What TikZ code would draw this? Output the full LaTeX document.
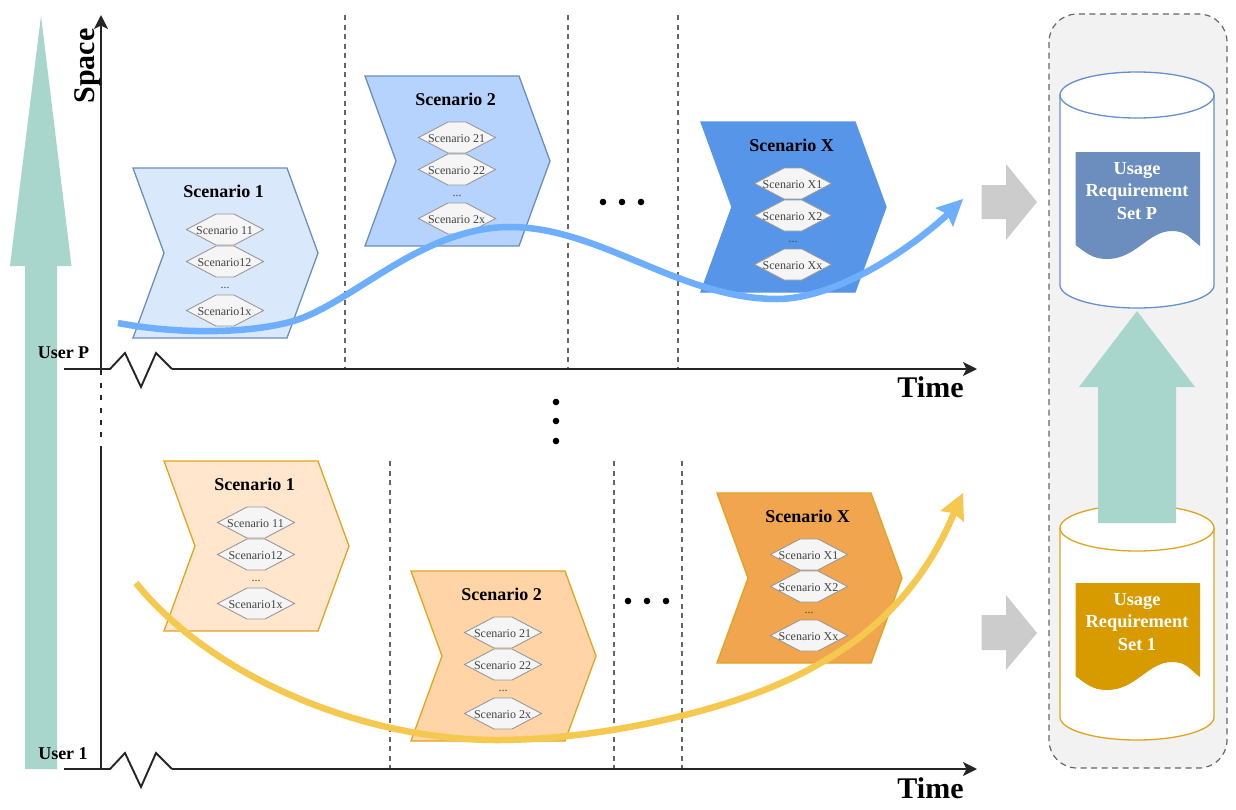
\documentclass[tikz,border=0pt]{standalone}
\usepackage{fontspec}
\setmainfont{Liberation Serif}
\usetikzlibrary{arrows.meta}
\definecolor{teal1}{HTML}{A8D6CD}
\definecolor{greyarrow}{HTML}{CCCCCC}
\definecolor{panelfill}{HTML}{F2F2F2}
\definecolor{axisc}{HTML}{262626}
\definecolor{dashc}{HTML}{666666}
\definecolor{hexfill}{HTML}{F5F5F5}
\definecolor{hexline}{HTML}{999999}
\definecolor{hextext}{HTML}{444444}
\definecolor{blueline}{HTML}{6C8EBF}
\definecolor{blueA}{HTML}{DAE8FC}
\definecolor{blueB}{HTML}{B5D3FD}
\definecolor{blueC}{HTML}{5695E8}
\definecolor{orangeline}{HTML}{E0A41E}
\definecolor{orangeA}{HTML}{FFE6CC}
\definecolor{orangeB}{HTML}{FFD4A6}
\definecolor{orangeC}{HTML}{F0A54E}
\definecolor{curveblue}{HTML}{6EAEFF}
\definecolor{curveyellow}{HTML}{F5C950}
\definecolor{docblue}{HTML}{6C8EBF}
\definecolor{docorange}{HTML}{D79B00}
\definecolor{cylblue}{HTML}{6490D0}
\tikzset{
  axisline/.style={draw=axisc,line width=1.9pt},
  axisarrow/.style={axisline,-{Stealth[length=14pt,width=14pt,inset=3.5pt]}},
  gridline/.style={draw=dashc,line width=1.3pt,dash pattern=on 5pt off 4.5pt},
  titletext/.style={font=\fontsize{18}{20}\selectfont\bfseries,text=black,anchor=base,inner sep=0pt},
  hextxt/.style={font=\fontsize{12}{14}\selectfont,text=hextext,anchor=base,inner sep=0pt},
  hexpath/.style={fill=hexfill,draw=hexline,line width=0.9pt},
  timetext/.style={font=\fontsize{30}{32}\selectfont\bfseries,text=black,anchor=base,inner sep=0pt},
  usertext/.style={font=\fontsize{18}{20}\selectfont\bfseries,text=black,anchor=base,inner sep=0pt},
  doctext/.style={font=\fontsize{18.4}{20}\selectfont\bfseries,text=white,anchor=base,inner sep=0pt},
  bigteal/.style={fill=teal1,draw=none},
  greyblock/.style={fill=greyarrow,draw=none},
  dotmark/.style={circle,fill=black,draw=none,minimum size=6.6pt,inner sep=0pt},
  curvestroke/.style={line width=6.5pt,line join=round},
}
% hexagon: name, y offset, text
\newcommand{\hexitem}[3]{%
  \draw[hexpath] (92-38.5,#2) -- (92-9,#2-15.5) -- (92+9,#2-15.5) -- (92+38.5,#2) -- (92+9,#2+15.5) -- (92-9,#2+15.5) -- cycle;
  \node[hextxt] (#1) at (91.5,#2+5) {#3};
}
% block: name, x, y, fill, line, title, sub1, sub2, sub3
\newcommand{\chevronblock}[9]{%
  \begin{scope}[shift={(#2,#3)}]
    \draw[fill=#4,draw=#5,line width=1.3pt,line join=miter]
      (0,0) -- (154,0) -- (185,85) -- (154,170) -- (0,170) -- (31,85) -- cycle;
    \node[titletext] (#1t) at (90.5,29) {#6};
    \hexitem{#1a}{61.5}{#7}
    \hexitem{#1b}{93.5}{#8}
    \node[hextxt] (#1d) at (92,120.5) {...};
    \hexitem{#1c}{142.5}{#9}
  \end{scope}
}
% cylinder: ellipse centre y, bottom arc centre y, colour
\newcommand{\cylblock}[3]{%
  \draw[fill=white,draw=#3,line width=1.3pt]
    (1060,#1) -- (1060,#2) arc[start angle=180,end angle=0,x radius=77,y radius=23] -- (1214,#1)
    arc[start angle=0,end angle=-180,x radius=77,y radius=23] -- cycle;
  \draw[draw=#3,line width=1.3pt] (1060,#1) arc[start angle=180,end angle=0,x radius=77,y radius=23];
}
% document: top y, fill
\newcommand{\docblock}[2]{%
  \fill[#2] (1075.5,#1) -- (1200,#1) -- (1200,#1+94)
    .. controls (1190,#1+87) and (1187,#1+79) .. (1172,#1+79)
    .. controls (1148,#1+79) and (1136,#1+107) .. (1107,#1+107)
    .. controls (1092,#1+107) and (1085,#1+100) .. (1075.5,#1+93) -- cycle;
}
\begin{document}
\begin{tikzpicture}[x=1pt,y=-1pt]
\path[use as bounding box,fill=white] (0,0) rectangle (1236,809);

% large space arrow
\fill[bigteal] (41,16) -- (71.5,266) -- (57,266) -- (57,769) -- (25,769) -- (25,266) -- (10,266) -- cycle;

% coordinates of axes
\coordinate (pL) at (64,369); \coordinate (pA) at (110,369);
\coordinate (pB) at (172,369); \coordinate (pE) at (977,369);
\coordinate (uL) at (64,769); \coordinate (uA) at (110,769);
\coordinate (uB) at (172,769); \coordinate (uE) at (977,769);
\coordinate (vTop) at (101,15); \coordinate (vP) at (101,375);
\coordinate (vGap) at (101,446); \coordinate (vU) at (101,769);
\coordinate (vDashA) at (101,383); \coordinate (vDashB) at (101,440);

% grid lines
\foreach \n/\gx in {a/345,b/568,c/678}{
  \coordinate (gt\n) at (\gx,15); \coordinate (gb\n) at (\gx,369);
  \draw[gridline] (gt\n) -- (gb\n);
}
\foreach \n/\gx in {d/390,e/614,f/682}{
  \coordinate (gt\n) at (\gx,461); \coordinate (gb\n) at (\gx,769);
  \draw[gridline] (gt\n) -- (gb\n);
}

% axes
\draw[axisarrow] (vP) -- (vTop);
\draw[draw=axisc,line width=2.2pt,dash pattern=on 5pt off 7.3pt] (vDashA) -- (vDashB);
\draw[axisline] (vGap) -- (vU);
\draw[axisline,line join=miter] (pL) -- (pA) -- (125,353) -- (141,387) -- (156,353) -- (pB);
\draw[axisarrow] (pB) -- (pE);
\draw[axisline,line join=miter] (uL) -- (uA) -- (125,753) -- (141,787) -- (156,753) -- (uB);
\draw[axisarrow] (uB) -- (uE);

% axis labels
\node[timetext] (timeP) at (930.5,397.5) {Time};
\node[timetext] (timeU) at (930.5,798) {Time};
\node[timetext,rotate=90] (spaceL) at (94,66) {Space};
\node[usertext] (userP) at (63.5,358) {User P};
\node[usertext] (userU) at (63,759) {User 1};

% scenario blocks
\chevronblock{pone}{133}{168}{blueA}{blueline}{Scenario 1}{Scenario 11}{Scenario12}{Scenario1x}
\chevronblock{ptwo}{365}{76}{blueB}{blueline}{Scenario 2}{Scenario 21}{Scenario 22}{Scenario 2x}
\chevronblock{px}{701}{122}{blueC}{blueC}{Scenario X}{Scenario X1}{Scenario X2}{Scenario Xx}
\chevronblock{uone}{164}{461}{orangeA}{orangeline}{Scenario 1}{Scenario 11}{Scenario12}{Scenario1x}
\chevronblock{utwo}{411}{571}{orangeB}{orangeline}{Scenario 2}{Scenario 21}{Scenario 22}{Scenario 2x}
\chevronblock{ux}{717}{493}{orangeC}{orangeline}{Scenario X}{Scenario X1}{Scenario X2}{Scenario Xx}

% ellipsis dots
\foreach \n/\dx in {1/603,2/622,3/641}{\node[dotmark] (dp\n) at (\dx,202) {};}
\foreach \n/\dx in {1/628,2/647,3/666}{\node[dotmark] (du\n) at (\dx,601) {};}
\foreach \n/\dy in {1/402,2/421,3/441}{\node[dotmark] (dv\n) at (556,\dy) {};}

% curves
\coordinate (bS) at (118,323); \coordinate (bE) at (948,214);
\coordinate (yS) at (136,583); \coordinate (yE) at (954,513);
\draw[curvestroke,draw=curveblue] (bS)
  .. controls (170,333) and (240,335) .. (290,322)
  .. controls (350,306) and (420,227) .. (510,227)
  .. controls (600,227) and (680,299) .. (777,299)
  .. controls (830,299) and (900,258) .. (bE);
\fill[curveblue] (963,199) -- (953,227) -- (947,214) -- (935,208) -- cycle;

\draw[curvestroke,draw=curveyellow] (yS)
  .. controls (210,675) and (360,740) .. (497,740)
  .. controls (600,740) and (740,710) .. (817,665)
  .. controls (870,636) and (922,590) .. (yE);
\fill[curveyellow] (963,493) -- (964,522) -- (953,513) -- (940,511) -- cycle;

% grey arrows
\fill[greyblock] (981.5,185) -- (1006,185) -- (1006,164) -- (1037,202) -- (1006,240) -- (1006,219) -- (981.5,219) -- cycle;
\fill[greyblock] (981.5,615) -- (1006,615) -- (1006,595) -- (1037,633) -- (1006,670) -- (1006,650) -- (981.5,650) -- cycle;

% right panel
\draw[fill=panelfill,draw=dashc,line width=1.2pt,dash pattern=on 6pt off 4.5pt,rounded corners=28pt]
  (1049,14) rectangle (1227,768);

% stores
\cylblock{95}{285}{cylblue}
\cylblock{528}{717}{orangeline}
\docblock{152}{docblue}
\docblock{583}{docorange}
\node[doctext] (p1) at (1137,174) {Usage};
\node[doctext] (p2) at (1137,196) {Requirement};
\node[doctext] (p3) at (1137,219) {Set P};
\node[doctext] (o1) at (1137,605) {Usage};
\node[doctext] (o2) at (1137,627) {Requirement};
\node[doctext] (o3) at (1137,650) {Set 1};

% link arrow between stores
\fill[bigteal] (1137,311) -- (1195,387) -- (1176,387) -- (1176,523) -- (1098,523) -- (1098,387) -- (1079,387) -- cycle;
\end{tikzpicture}
\end{document}
